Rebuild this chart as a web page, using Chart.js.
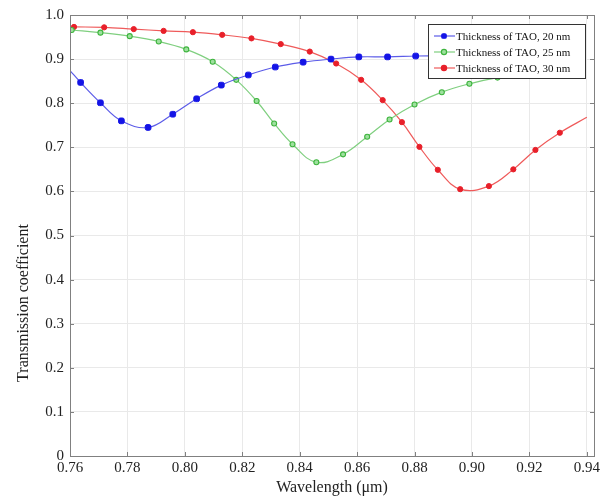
<!DOCTYPE html>
<html>
<head>
<meta charset="utf-8">
<script src="https://cdn.jsdelivr.net/npm/chart.js@4.4.1/dist/chart.umd.min.js"></script>
<style>
  html, body { margin: 0; padding: 0; background: #fff; }
  #wrap { width: 615px; height: 497px; }
</style>
</head>
<body>
<div id="wrap"><canvas id="chart" width="615" height="497"></canvas></div>
<script>
// values
const seriesNames = ['Thickness of TAO, 20 nm', 'Thickness of TAO, 25 nm', 'Thickness of TAO, 30 nm'];

const blueX = [0.7600, 0.7637, 0.7706, 0.7779, 0.7872, 0.7958, 0.8041, 0.8127, 0.8221, 0.8315, 0.8412,
               0.8509, 0.8606, 0.8706, 0.8804, 0.8900, 0.8995, 0.9090, 0.9185, 0.9280, 0.9375];
const blueY = [0.874, 0.847, 0.801, 0.760, 0.745, 0.775, 0.810, 0.841, 0.864, 0.882, 0.893,
               0.900, 0.905, 0.905, 0.907, 0.908, 0.908, 0.908, 0.907, 0.907, 0.906];

const greenX = [0.7606, 0.7706, 0.7808, 0.7909, 0.8005, 0.8097, 0.8179, 0.8250, 0.8311, 0.8375, 0.8458,
                0.8551, 0.8635, 0.8713, 0.8800, 0.8895, 0.8991, 0.9089, 0.9185, 0.9280, 0.9375];
const greenY = [0.966, 0.960, 0.952, 0.940, 0.922, 0.894, 0.853, 0.805, 0.754, 0.707, 0.666,
                0.684, 0.724, 0.763, 0.797, 0.825, 0.844, 0.858, 0.866, 0.871, 0.875];

const redX = [0.7614, 0.7719, 0.7822, 0.7926, 0.8028, 0.8130, 0.8232, 0.8334, 0.8435, 0.8527, 0.8614,
              0.8689, 0.8756, 0.8817, 0.8881, 0.8959, 0.9059, 0.9144, 0.9221, 0.9306, 0.9400];
const redY = [0.973, 0.972, 0.968, 0.964, 0.961, 0.955, 0.947, 0.934, 0.917, 0.890, 0.853,
              0.807, 0.757, 0.701, 0.649, 0.605, 0.612, 0.650, 0.694, 0.733, 0.768];

const xTicks = [0.76, 0.78, 0.80, 0.82, 0.84, 0.86, 0.88, 0.90, 0.92, 0.94];
const yTicks = [0, 0.1, 0.2, 0.3, 0.4, 0.5, 0.6, 0.7, 0.8, 0.9, 1.0];

const toPoints = (xs, ys) => xs.map((x, i) => ({ x: x, y: ys[i] }));

const serif = "'Liberation Serif', 'DejaVu Serif', serif";

// box round the plot with small inward ticks, like the matlab axes
const boxPlugin = {
    id: 'box',
    afterDraw(chart) {
        const { ctx, chartArea: a, scales } = chart;
        ctx.save();
        ctx.strokeStyle = '#808080';
        ctx.lineWidth = 1;
        ctx.strokeRect(a.left + 0.5, a.top + 0.5, a.right - a.left, a.bottom - a.top);
        ctx.beginPath();
        xTicks.forEach(v => {
            const px = Math.round(scales.x.getPixelForValue(v)) + 0.5;
            ctx.moveTo(px, a.bottom); ctx.lineTo(px, a.bottom - 4);
            ctx.moveTo(px, a.top); ctx.lineTo(px, a.top + 4);
        });
        yTicks.forEach(v => {
            const py = Math.round(scales.y.getPixelForValue(v)) + 0.5;
            ctx.moveTo(a.left, py); ctx.lineTo(a.left + 4, py);
            ctx.moveTo(a.right, py); ctx.lineTo(a.right - 4, py);
        });
        ctx.stroke();

        // y title sits lower than the middle in the reference
        ctx.fillStyle = '#222';
        ctx.font = '16px ' + serif;
        ctx.textAlign = 'center';
        ctx.textBaseline = 'middle';
        ctx.translate(24, 303);
        ctx.rotate(-Math.PI / 2);
        ctx.fillText('Transmission coefficient', 0, 0);
        ctx.restore();
    }
};

// legend box inside the plot, top right
const legendPlugin = {
    id: 'innerLegend',
    afterDraw(chart) {
        const { ctx } = chart;
        const left = 428, top = 24, w = 157, h = 54;
        ctx.save();
        ctx.fillStyle = '#fff';
        ctx.fillRect(left, top, w, h);
        ctx.strokeStyle = '#333';
        ctx.lineWidth = 1;
        ctx.strokeRect(left + 0.5, top + 0.5, w, h);
        chart.data.datasets.forEach((ds, i) => {
            const y = top + 12 + i * 16;
            ctx.strokeStyle = ds.borderColor;
            ctx.lineWidth = 1.2;
            ctx.beginPath();
            ctx.moveTo(left + 6, y);
            ctx.lineTo(left + 27, y);
            ctx.stroke();
            ctx.fillStyle = ds.pointBackgroundColor;
            ctx.strokeStyle = ds.pointBorderColor;
            Chart.helpers.drawPoint(ctx, {
                pointStyle: ds.pointStyle,
                radius: 2.6,
                borderWidth: ds.pointBorderWidth,
                rotation: 0
            }, left + 16, y);
            ctx.fillStyle = '#111';
            ctx.font = '11px ' + serif;
            ctx.textAlign = 'left';
            ctx.textBaseline = 'middle';
            ctx.fillText(ds.label, left + 28, y + 1);
        });
        ctx.restore();
    }
};

const ctx = document.getElementById('chart').getContext('2d');
new Chart(ctx, {
    type: 'line',
    data: {
        datasets: [
            {
                label: seriesNames[0],
                data: toPoints(blueX, blueY),
                borderColor: '#5c5ce8',
                borderWidth: 1.2,
                pointStyle: 'rectRounded',
                pointRadius: c => c.dataIndex === 0 ? 0 : 3.3,
                pointBackgroundColor: '#1414e6',
                pointBorderColor: '#1414e6',
                pointBorderWidth: 1,
                tension: 0.4
            },
            {
                label: seriesNames[1],
                data: toPoints(greenX, greenY),
                borderColor: '#7fcf7f',
                borderWidth: 1.2,
                pointStyle: 'circle',
                pointRadius: 2.5,
                pointBackgroundColor: '#9ee09e',
                pointBorderColor: '#3db43d',
                pointBorderWidth: 1.1,
                tension: 0.4
            },
            {
                label: seriesNames[2],
                data: toPoints(redX, redY),
                borderColor: '#ef5a5a',
                borderWidth: 1.2,
                pointStyle: 'circle',
                pointRadius: c => c.dataIndex === redX.length - 1 ? 0 : 2.6,
                pointBackgroundColor: '#e8202a',
                pointBorderColor: '#e8202a',
                pointBorderWidth: 1,
                tension: 0.4
            }
        ]
    },
    options: {
        responsive: false,
        animation: false,
        devicePixelRatio: 1,
        layout: {
            padding: { top: 14, right: 21, left: 0, bottom: 0 }
        },
        plugins: {
            legend: { display: false },
            tooltip: { enabled: false }
        },
        scales: {
            x: {
                type: 'linear',
                min: 0.76,
                max: 0.9425,
                afterFit: scale => { scale.height = 41; },
                afterBuildTicks: scale => { scale.ticks = xTicks.map(v => ({ value: v })); },
                ticks: {
                    padding: 3,
                    color: '#222',
                    font: { family: serif, size: 15 },
                    callback: v => v.toFixed(2)
                },
                grid: { color: '#e9e9e9', drawTicks: false },
                border: { display: false },
                title: {
                    display: true,
                    text: 'Wavelength (\u03bcm)',
                    color: '#222',
                    font: { family: serif, size: 16 },
                    padding: { top: 0, bottom: 0 }
                }
            },
            y: {
                min: 0,
                max: 1.0,
                afterFit: scale => { scale.width = 70; },
                afterBuildTicks: scale => { scale.ticks = yTicks.map(v => ({ value: v })); },
                ticks: {
                    padding: 6,
                    color: '#222',
                    font: { family: serif, size: 15 },
                    callback: v => v === 0 ? '0' : v.toFixed(1)
                },
                grid: { color: '#e9e9e9', drawTicks: false },
                border: { display: false }
            }
        }
    },
    plugins: [boxPlugin, legendPlugin]
});
</script>
</body>
</html>
